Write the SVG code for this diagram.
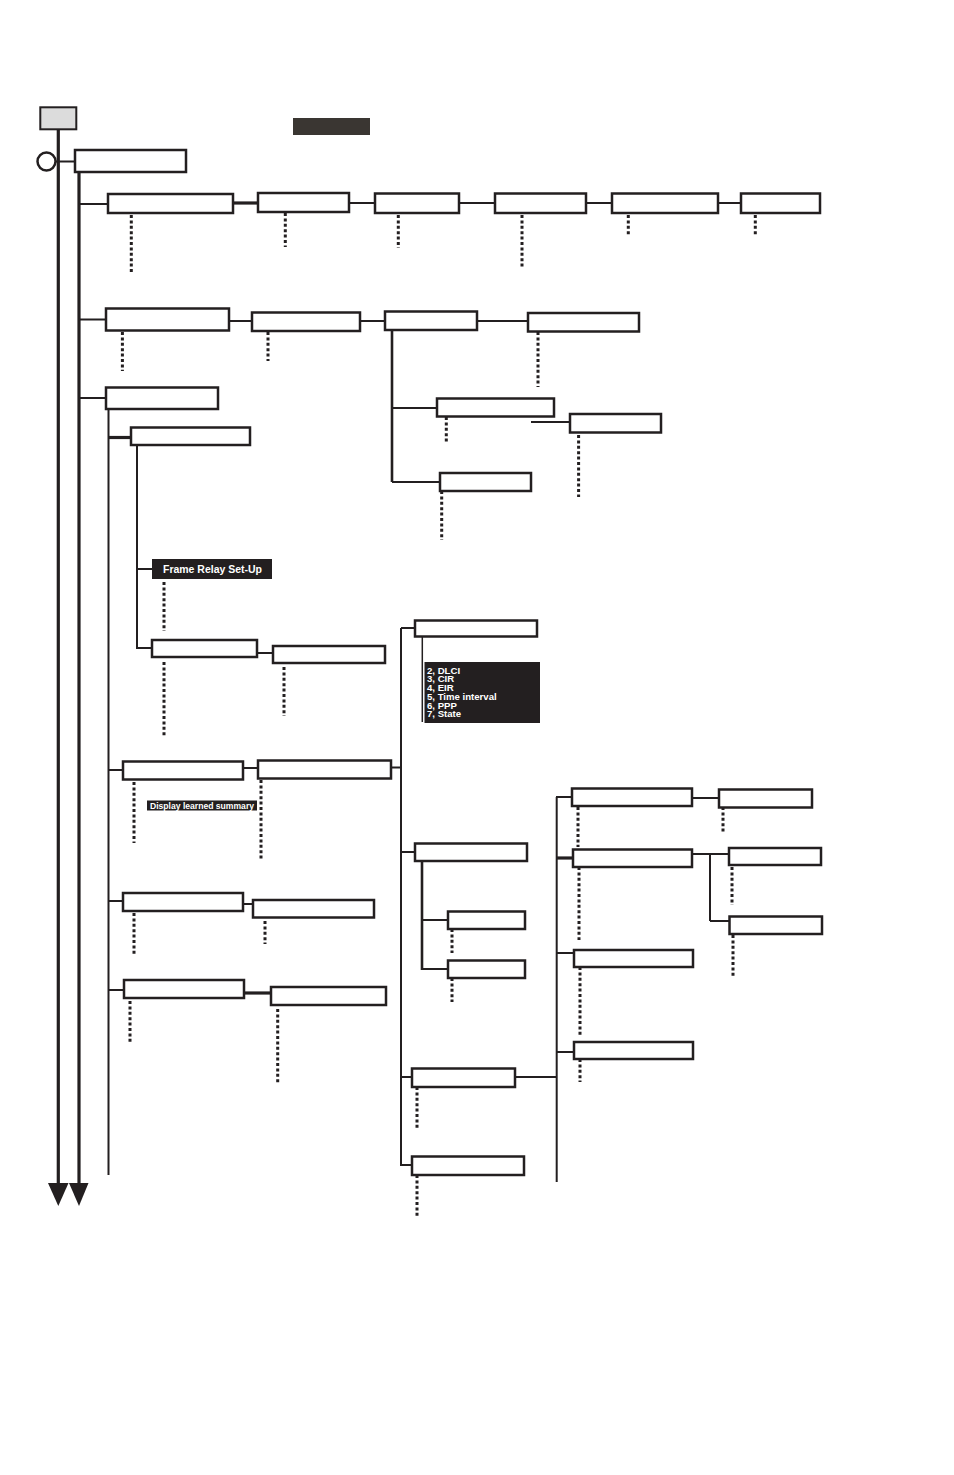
<svg xmlns="http://www.w3.org/2000/svg" width="954" height="1475" viewBox="0 0 954 1475">
<style>
.b{fill:#fff;stroke:#231f20;stroke-width:2.5}
.k{fill:#231f20;stroke:none}
.c{stroke:#231f20;stroke-width:2;fill:none}
.t{stroke:#231f20;stroke-width:3.2;fill:none}
.d{stroke:#231f20;stroke-width:3;stroke-dasharray:3 2.4;fill:none}
.w{fill:#fff;font-family:"Liberation Sans",Arial,sans-serif;font-weight:bold}
</style>
<rect width="954" height="1475" fill="#fff"/>
<g id="connectors">
<line class="t" x1="58.3" y1="129" x2="58.3" y2="1186"/>
<polygon class="k" points="48,1183 68.5,1183 58.3,1206"/>
<line class="t" x1="79" y1="172" x2="79" y2="1186"/>
<polygon class="k" points="69,1183 88.5,1183 79,1206"/>
<line class="c" x1="55" y1="161.5" x2="75" y2="161.5"/>
<line class="c" x1="79" y1="204" x2="108" y2="204"/>
<line class="t" x1="233" y1="203" x2="258" y2="203"/>
<line class="c" x1="349" y1="203" x2="375" y2="203"/>
<line class="c" x1="459" y1="203" x2="495" y2="203"/>
<line class="c" x1="586" y1="203" x2="612" y2="203"/>
<line class="c" x1="718" y1="203" x2="741" y2="203"/>
<line class="c" x1="79" y1="319.5" x2="106" y2="319.5"/>
<line class="c" x1="229" y1="321" x2="252" y2="321"/>
<line class="c" x1="360" y1="321" x2="385" y2="321"/>
<line class="c" x1="477" y1="321" x2="528" y2="321"/>
<line class="c" style="stroke-width:2.6" x1="392" y1="330" x2="392" y2="482"/>
<line class="c" x1="392" y1="408" x2="437" y2="408"/>
<line class="c" x1="392" y1="482" x2="440" y2="482"/>
<line class="c" x1="531" y1="422" x2="570" y2="422"/>
<line class="c" x1="79" y1="398" x2="106" y2="398"/>
<line class="c" x1="108.5" y1="409" x2="108.5" y2="1175"/>
<line class="t" x1="108" y1="437.5" x2="131" y2="437.5"/>
<line class="c" x1="137" y1="445" x2="137" y2="649"/>
<line class="c" x1="137" y1="569" x2="152" y2="569"/>
<line class="c" x1="137" y1="648" x2="152" y2="648"/>
<line class="c" x1="257" y1="653" x2="273" y2="653"/>
<line class="c" x1="108" y1="770" x2="123" y2="770"/>
<line class="c" x1="243" y1="768" x2="258" y2="768"/>
<line class="c" x1="391" y1="767.5" x2="401" y2="767.5"/>
<line class="c" x1="108" y1="901" x2="123" y2="901"/>
<line class="c" x1="243" y1="904" x2="253" y2="904"/>
<line class="c" x1="108" y1="990" x2="124" y2="990"/>
<line class="t" x1="244" y1="993" x2="271" y2="993"/>
<line class="c" x1="401" y1="628" x2="401" y2="1166"/>
<line class="c" x1="401" y1="628" x2="415" y2="628"/>
<line class="c" style="stroke-width:1.5" x1="422.3" y1="636" x2="422.3" y2="722"/>
<line class="c" x1="401" y1="852" x2="415" y2="852"/>
<line class="c" style="stroke-width:2.6" x1="422" y1="861" x2="422" y2="970"/>
<line class="c" x1="422" y1="920" x2="448" y2="920"/>
<line class="c" x1="422" y1="969" x2="448" y2="969"/>
<line class="c" x1="401" y1="1077" x2="412" y2="1077"/>
<line class="c" x1="401" y1="1165" x2="412" y2="1165"/>
<line class="c" x1="515" y1="1077" x2="556.7" y2="1077"/>
<line class="c" x1="556.7" y1="797" x2="556.7" y2="1182"/>
<line class="c" x1="556" y1="797" x2="572" y2="797"/>
<line class="t" x1="556" y1="858" x2="573" y2="858"/>
<line class="c" x1="556" y1="953" x2="574" y2="953"/>
<line class="c" x1="556" y1="1052" x2="574" y2="1052"/>
<line class="c" x1="692" y1="798" x2="719" y2="798"/>
<line class="c" x1="692" y1="854" x2="729" y2="854"/>
<line class="c" x1="710" y1="854" x2="710" y2="921"/>
<line class="c" x1="710" y1="921" x2="729" y2="921"/>
</g>
<g id="dots">
<line class="d" x1="131.3" y1="215" x2="131.3" y2="273"/>
<line class="d" x1="285.3" y1="213" x2="285.3" y2="247"/>
<line class="d" x1="398.3" y1="215" x2="398.3" y2="248"/>
<line class="d" x1="522" y1="215" x2="522" y2="268"/>
<line class="d" x1="628.3" y1="215" x2="628.3" y2="235"/>
<line class="d" x1="755.3" y1="215" x2="755.3" y2="235"/>
<line class="d" x1="122.4" y1="332" x2="122.4" y2="371"/>
<line class="d" x1="268" y1="332" x2="268" y2="361"/>
<line class="d" x1="538" y1="332" x2="538" y2="387"/>
<line class="d" x1="446.3" y1="417" x2="446.3" y2="442"/>
<line class="d" x1="578.6" y1="435" x2="578.6" y2="497"/>
<line class="d" x1="441.7" y1="491" x2="441.7" y2="540"/>
<line class="d" x1="164" y1="582" x2="164" y2="631"/>
<line class="d" x1="164" y1="662" x2="164" y2="737"/>
<line class="d" x1="284" y1="667" x2="284" y2="716"/>
<line class="d" x1="134" y1="782" x2="134" y2="843"/>
<line class="d" x1="261" y1="780" x2="261" y2="859"/>
<line class="d" x1="134" y1="913" x2="134" y2="955"/>
<line class="d" x1="265" y1="921" x2="265" y2="944"/>
<line class="d" x1="130" y1="1001" x2="130" y2="1042"/>
<line class="d" x1="277.7" y1="1009" x2="277.7" y2="1084"/>
<line class="d" x1="578" y1="807" x2="578" y2="847"/>
<line class="d" x1="723" y1="807" x2="723" y2="834"/>
<line class="d" x1="579" y1="867" x2="579" y2="940"/>
<line class="d" x1="732" y1="867" x2="732" y2="905"/>
<line class="d" x1="733" y1="935" x2="733" y2="977"/>
<line class="d" x1="580" y1="967" x2="580" y2="1037"/>
<line class="d" x1="580" y1="1059" x2="580" y2="1082"/>
<line class="d" x1="452" y1="929" x2="452" y2="953"/>
<line class="d" x1="452" y1="978" x2="452" y2="1002"/>
<line class="d" x1="417" y1="1087" x2="417" y2="1128"/>
<line class="d" x1="417" y1="1175" x2="417" y2="1217"/>
</g>
<g id="n0"><rect x="40.3" y="107.3" width="36" height="22" fill="#dcdcdc" stroke="#231f20" stroke-width="2"/></g>
<g id="header"><rect x="293" y="118" width="77" height="17" fill="#3a3632"/></g>
<g id="start"><circle cx="46.5" cy="161.5" r="9" fill="#fff" stroke="#231f20" stroke-width="2.5"/></g>
<g id="n1"><rect class="b" x="75" y="150" width="111" height="22"/></g>
<g id="r1a"><rect class="b" x="108" y="194" width="125" height="19"/></g>
<g id="r1b"><rect class="b" x="258" y="193" width="91" height="19"/></g>
<g id="r1c"><rect class="b" x="375" y="193.5" width="84" height="19.5"/></g>
<g id="r1d"><rect class="b" x="495" y="193.5" width="91" height="19.5"/></g>
<g id="r1e"><rect class="b" x="612" y="193.5" width="106" height="19.5"/></g>
<g id="r1f"><rect class="b" x="741" y="193.5" width="79" height="19.5"/></g>
<g id="r2a"><rect class="b" x="106" y="308.5" width="123" height="22"/></g>
<g id="r2b"><rect class="b" x="252" y="312.5" width="108" height="18.5"/></g>
<g id="r2c"><rect class="b" x="385" y="311.5" width="92" height="18.5"/></g>
<g id="r2d"><rect class="b" x="528" y="313" width="111" height="18.5"/></g>
<g id="r2e"><rect class="b" x="437" y="398.5" width="117" height="18"/></g>
<g id="r2f"><rect class="b" x="440" y="473" width="91" height="18"/></g>
<g id="r2g"><rect class="b" x="570" y="414" width="91" height="18.5"/></g>
<g id="r3"><rect class="b" x="106" y="387.5" width="112" height="21.5"/></g>
<g id="r3a"><rect class="b" x="131" y="427.5" width="119" height="17.5"/></g>
<g id="fr"><rect class="k" x="152" y="559" width="120" height="20"/><text class="w" x="163" y="572.5" font-size="10" textLength="99" lengthAdjust="spacingAndGlyphs">Frame Relay Set-Up</text></g>
<g id="r3b"><rect class="b" x="152" y="640" width="105" height="17"/></g>
<g id="r3c"><rect class="b" x="273" y="646" width="112" height="17"/></g>
<g id="d1"><rect class="b" x="123" y="761.5" width="120" height="18"/></g>
<g id="d2"><rect class="b" x="258" y="760.5" width="133" height="18"/></g>
<g id="dls"><rect class="k" x="147" y="800.5" width="110" height="10"/><text x="150" y="808.8" font-size="9" fill="#fff" font-weight="bold" font-family="'Liberation Sans',Arial,sans-serif" textLength="104" lengthAdjust="spacingAndGlyphs">Display learned summary</text></g>
<g id="e1"><rect class="b" x="123" y="893" width="120" height="18"/></g>
<g id="e2"><rect class="b" x="253" y="900" width="121" height="17.5"/></g>
<g id="f1"><rect class="b" x="124" y="980" width="120" height="18"/></g>
<g id="f2"><rect class="b" x="271" y="987" width="115" height="18"/></g>
<g id="g1"><rect class="b" x="415" y="620.5" width="122" height="16"/></g>
<g id="list"><rect class="k" x="424.5" y="662" width="115.5" height="61"/>
<text class="w" font-size="9.6"><tspan x="427" y="673.5">2,  DLCI</tspan><tspan x="427" y="682.3">3,  CIR</tspan><tspan x="427" y="691">4,  EIR</tspan><tspan x="427" y="699.8">5,  Time interval</tspan><tspan x="427" y="708.6">6,   PPP</tspan><tspan x="427" y="717.4">7,  State</tspan></text></g>
<g id="g2"><rect class="b" x="415" y="843.5" width="112" height="17.5"/></g>
<g id="g3"><rect class="b" x="448" y="911.5" width="77" height="17.5"/></g>
<g id="g4"><rect class="b" x="448" y="960.5" width="77" height="17.5"/></g>
<g id="g5"><rect class="b" x="412" y="1068.5" width="103" height="18.5"/></g>
<g id="g6"><rect class="b" x="412" y="1156.5" width="112" height="18.5"/></g>
<g id="h1"><rect class="b" x="572" y="788.5" width="120" height="17.5"/></g>
<g id="h2"><rect class="b" x="719" y="789.5" width="93" height="18"/></g>
<g id="h3"><rect class="b" x="573" y="849.5" width="119" height="17.5"/></g>
<g id="h4"><rect class="b" x="729" y="848" width="92" height="17"/></g>
<g id="h5"><rect class="b" x="729.5" y="916.5" width="92.5" height="17.5"/></g>
<g id="h6"><rect class="b" x="574" y="950" width="119" height="17"/></g>
<g id="h7"><rect class="b" x="574" y="1042" width="119" height="17"/></g>
</svg>
